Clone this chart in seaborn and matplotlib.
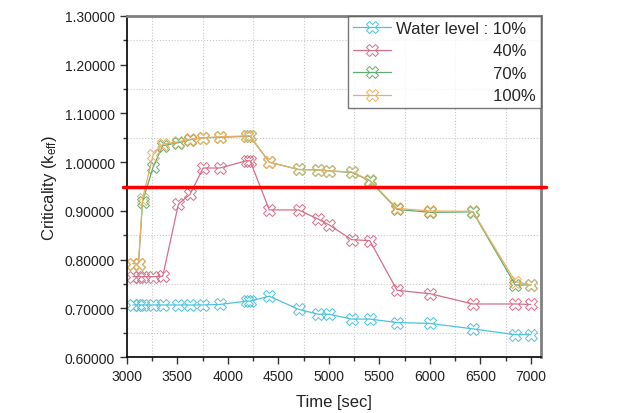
import numpy as np
import pandas as pd
import matplotlib
matplotlib.use("Agg")
import matplotlib.pyplot as plt
from matplotlib.ticker import MultipleLocator, FormatStrFormatter
import seaborn as sns

# time points [sec]
time = [3060, 3115, 3155, 3260, 3355, 3510, 3625, 3755, 3920, 4185, 4220,
        4410, 4700, 4895, 5005, 5225, 5405, 5675, 6005, 6425, 6845, 7000]

# criticality (k_eff) per water level
k_10 = [0.707, 0.707, 0.707, 0.707, 0.707, 0.707, 0.707, 0.707, 0.708, 0.715, 0.715,
        0.725, 0.698, 0.688, 0.688, 0.678, 0.678, 0.671, 0.669, 0.658, 0.646, 0.646]
k_40 = [0.765, 0.765, 0.765, 0.765, 0.766, 0.914, 0.934, 0.988, 0.988, 1.003, 1.003,
        0.902, 0.902, 0.883, 0.871, 0.841, 0.839, 0.737, 0.730, 0.709, 0.709, 0.708]
k_70 = [0.792, 0.792, 0.919, 0.990, 1.034, 1.040, 1.046, 1.050, 1.051, 1.053, 1.053,
        1.000, 0.985, 0.984, 0.982, 0.979, 0.962, 0.903, 0.897, 0.898, 0.748, 0.748]
k_100 = [0.792, 0.792, 0.925, 1.015, 1.037, 1.042, 1.047, 1.050, 1.052, 1.054, 1.054,
         1.000, 0.985, 0.984, 0.982, 0.980, 0.963, 0.905, 0.900, 0.899, 0.755, 0.748]

prefix = "Water level : "
levels = ["10%", "40%", "70%", "100%"]
colors = ["#4cc3dc", "#d46f8a", "#5fae6e", "#eab062"]
limit = 0.95

sns.set_style("ticks")
plt.rcParams['font.family'] = ['Liberation Sans', 'DejaVu Sans']
plt.rcParams['mathtext.default'] = 'regular'

fig = plt.figure(figsize=(6.19, 4.14), dpi=100)
ax = fig.add_axes([0.205, 0.135, 0.669, 0.824])

# pad the shorter labels with spaces so the numbers line up under "10%"
renderer = fig.canvas.get_renderer()
def text_width(s):
    t = fig.text(0, 0, s, fontsize=12)
    w = t.get_window_extent(renderer).width
    t.remove()
    return w
target = text_width(prefix + "1") - text_width("1")
space_w = (text_width(" " * 40 + "1") - text_width("1")) / 40
n_sp = int(round(target / space_w))
labels = [prefix + levels[0]] + [" " * n_sp + lv for lv in levels[1:]]

for k, lab, c in zip([k_10, k_40, k_70, k_100], labels, colors):
    sns.lineplot(x=time, y=k, ax=ax, color=c, lw=0.9, marker='X', markersize=8,
                 markerfacecolor='none', markeredgecolor=c, markeredgewidth=0.7,
                 label=lab)

ax.axhline(limit, xmin=-0.01, xmax=1.012, color='red', lw=2.5, clip_on=False, zorder=5)

ax.set_xlim(3000, 7100)
ax.set_ylim(0.6, 1.3)
ax.xaxis.set_major_locator(MultipleLocator(500))
ax.xaxis.set_minor_locator(MultipleLocator(250))
ax.yaxis.set_major_locator(MultipleLocator(0.1))
ax.yaxis.set_minor_locator(MultipleLocator(0.05))
ax.yaxis.set_major_formatter(FormatStrFormatter('%.5f'))

# grid only on the minor ticks, like the original
ax.grid(which='minor', color='#c8c8c8', ls=':', lw=0.8)
ax.grid(which='major', visible=False)

ax.tick_params(which='major', direction='out', length=5, width=1, labelsize=10, colors='#333333',
               labelcolor='#222222')
ax.tick_params(which='minor', direction='out', length=3, width=1, colors='#333333')

for s in ['left', 'bottom']:
    ax.spines[s].set_color('black')
    ax.spines[s].set_linewidth(1.2)
for s in ['top', 'right']:
    ax.spines[s].set_color('#808080')
    ax.spines[s].set_linewidth(2)

ax.set_xlabel('Time [sec]', fontsize=12, color='#222222', labelpad=8)
ax.set_ylabel('Criticality (k$_{eff}$)', fontsize=12, color='#222222')

leg = ax.legend(loc='upper right', fontsize=12, frameon=True, fancybox=False,
                edgecolor='#555555', borderaxespad=0, handlelength=2.3,
                labelspacing=0.45, borderpad=0.3, handletextpad=0.3)
leg.get_frame().set_linewidth(1)

fig.savefig('out.png', dpi=100)
